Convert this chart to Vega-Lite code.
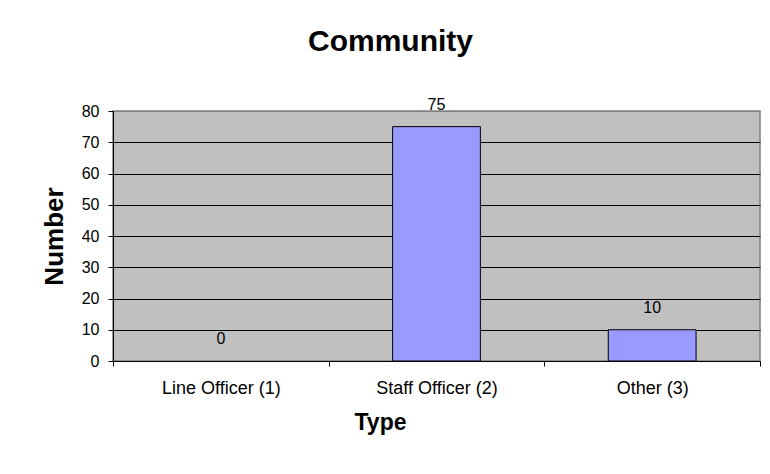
{
  "$schema": "https://vega.github.io/schema/vega-lite/v6.json",
  "width": 647,
  "height": 250,
  "autosize": {"type": "none"},
  "padding": {"left": 113, "top": 111, "right": 10, "bottom": 113},
  "background": "white",
  "config": {
    "font": "Liberation Sans",
    "view": {"fill": "#C0C0C0", "stroke": "#808080", "strokeWidth": 1.5}
  },
  "title": {
    "text": "Community",
    "fontSize": 30,
    "fontWeight": "bold",
    "font": "Liberation Sans",
    "color": "black",
    "anchor": "middle",
    "frame": "group",
    "baseline": "alphabetic",
    "dx": -46,
    "offset": 16
  },
  "data": {
    "values": [
      {"type": "Line Officer (1)", "number": 0},
      {"type": "Staff Officer (2)", "number": 75},
      {"type": "Other (3)", "number": 10}
    ]
  },
  "encoding": {
    "x": {
      "field": "type",
      "type": "nominal",
      "sort": ["Line Officer (1)", "Staff Officer (2)", "Other (3)"],
      "scale": {"paddingInner": 0, "paddingOuter": 0},
      "axis": {
        "title": "Type",
        "titleFontSize": 23,
        "titleFontWeight": "bold",
        "titleColor": "black",
        "titleX": 267,
        "titleY": 68,
        "titleBaseline": "alphabetic",
        "titleAlign": "center",
        "labelAngle": 0,
        "labelFontSize": 18,
        "labelColor": "black",
        "labelBaseline": "alphabetic",
        "labelPadding": 27,
        "tickBand": "extent",
        "tickSize": 5,
        "tickColor": "black",
        "domainColor": "black",
        "grid": false
      }
    },
    "y": {
      "field": "number",
      "type": "quantitative",
      "scale": {"domain": [0, 80], "nice": false},
      "axis": {
        "title": "Number",
        "titleFontSize": 26,
        "titleFontWeight": "bold",
        "titleColor": "black",
        "titleX": -51,
        "titleY": 125,
        "titleBaseline": "alphabetic",
        "titleAlign": "center",
        "values": [0, 10, 20, 30, 40, 50, 60, 70, 80],
        "labelFontSize": 16,
        "labelColor": "black",
        "labelPadding": 9,
        "tickSize": 5,
        "tickColor": "black",
        "domainColor": "black",
        "grid": true,
        "gridColor": {"condition": {"test": "datum.value === 80", "value": "#808080"}, "value": "black"},
        "gridOpacity": 1
      }
    }
  },
  "layer": [
    {
      "transform": [{"filter": "datum.number > 0"}],
      "mark": {"type": "bar", "fill": "#9999FF", "stroke": "black", "strokeWidth": 1, "width": {"band": 0.407}}
    },
    {
      "mark": {"type": "text", "fontSize": 16, "baseline": "alphabetic", "dy": -17, "color": "black"},
      "encoding": {"text": {"field": "number", "type": "quantitative"}}
    }
  ]
}
